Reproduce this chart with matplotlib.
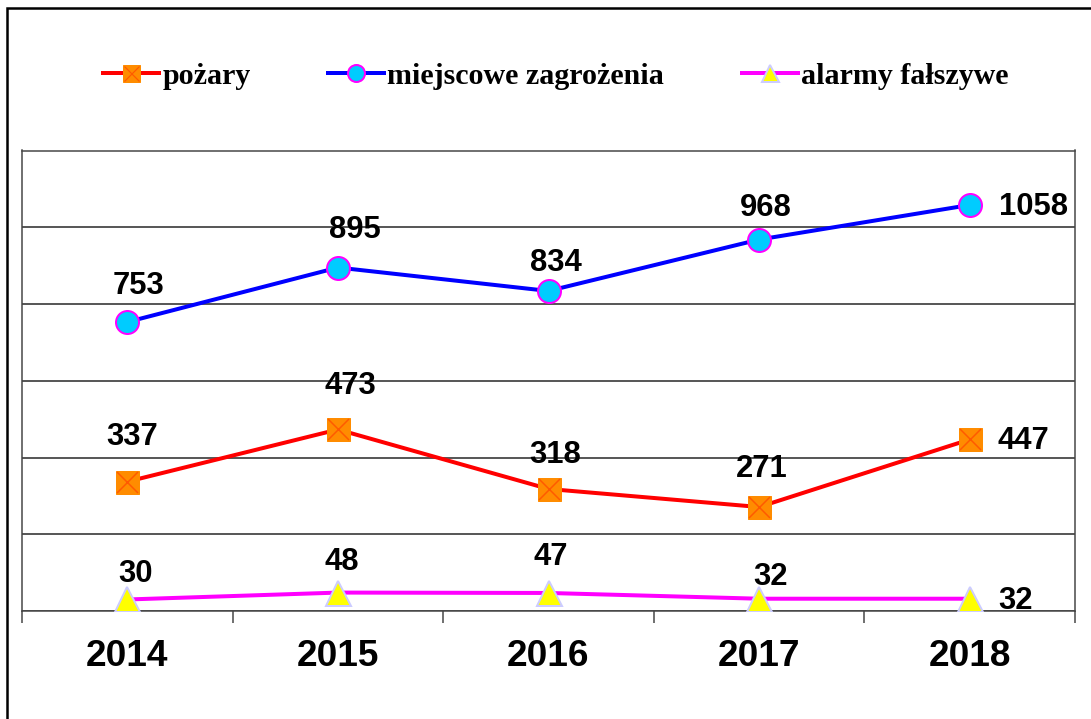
import matplotlib.pyplot as plt
from matplotlib.lines import Line2D
from matplotlib.patches import Rectangle

years = ["2014", "2015", "2016", "2017", "2018"]
pozary = [337, 473, 318, 271, 447]
miejscowe = [753, 895, 834, 968, 1058]
alarmy = [30, 48, 47, 32, 32]

# label offsets in pixels (dpi = 72 so points == pixels)
off_pozary = [(5, 45), (12, 43), (7, 34), (3, 38), (54, -2)]
off_miejscowe = [(11, 36), (17, 38), (7, 28), (7, 32), (64, -2)]
off_alarmy = [(8, 25), (4, 31), (2, 36), (11, 22), (46, -2)]

fig = plt.figure(figsize=(1091 / 72, 719 / 72), dpi=72)
fig.patches.append(Rectangle((7 / 1091, -0.1), 1.2, 1 - 8 / 719 + 0.1,
                             transform=fig.transFigure, fill=False,
                             edgecolor="black", linewidth=2.5))
ax = fig.add_axes([22 / 1091, 1 - 611 / 719, 1053 / 1091, 460.5 / 719])

x = list(range(len(years)))
ax.plot(x, miejscowe, color="#0000FF", lw=4, marker="o", ms=23,
        mfc="#00CCFF", mec="#FF00FF", mew=2, zorder=4)
ax.plot(x, pozary, color="#FF0000", lw=4, marker="s", ms=23,
        mfc="#FF8C00", mec="#FF8C00", zorder=4)
ax.plot(x, pozary, ls="none", marker="x", ms=21, mec="#FF5A00", mew=1.5, zorder=5)
ax.plot(x, alarmy, color="#FF00FF", lw=4, marker="^", ms=25,
        mfc="#FFFF00", mec="#CCCCFF", mew=2, zorder=4)

lab = dict(ha="center", va="center", fontsize=31, fontweight="bold",
           family="Liberation Sans", textcoords="offset points", zorder=6)
for vals, offs in [(pozary, off_pozary), (miejscowe, off_miejscowe), (alarmy, off_alarmy)]:
    for i, v in enumerate(vals):
        ax.annotate(str(v), (i, v), xytext=offs[i], **lab)

ax.set_xlim(-0.5, 4.5)
ax.set_ylim(0, 1200)
ax.set_yticks(range(0, 1201, 200))
ax.set_yticklabels([])
ax.tick_params(axis="y", length=0)
ax.grid(axis="y", color="#222222", lw=1.5)
ax.set_axisbelow(True)
ax.set_xticks(x)
ax.set_xticklabels(years, fontsize=37, fontweight="bold", family="Liberation Sans")
ax.tick_params(axis="x", length=0, pad=28)
ax.set_xticks([i - 0.5 for i in range(6)], minor=True)
ax.tick_params(axis="x", which="minor", length=12, width=1.5, color="#444444")
for s in ax.spines.values():
    s.set_color("#444444")
    s.set_linewidth(1.5)

h_poz = (Line2D([], [], color="#FF0000", lw=4, marker="s", ms=17, mfc="#FF8C00", mec="#FF8C00"),
         Line2D([], [], ls="none", marker="x", ms=15, mec="#FF5A00", mew=1.2))
handles = [
    h_poz,
    Line2D([], [], color="#0000FF", lw=4, marker="o", ms=17, mfc="#00CCFF", mec="#FF00FF", mew=2),
    Line2D([], [], color="#FF00FF", lw=4, marker="^", ms=17, mfc="#FFFF00", mec="#CCCCFF", mew=2),
]
fig.legend(handles, ["pożary", "miejscowe zagrożenia", "alarmy fałszywe"],
           loc="center", bbox_to_anchor=(556 / 1091, 1 - 76 / 719), ncol=3,
           frameon=False, handlelength=1.85, handletextpad=0.12, columnspacing=2.6,
           prop=dict(family="Liberation Serif", weight="bold", size=30))

fig.savefig("out.png", dpi=72)
